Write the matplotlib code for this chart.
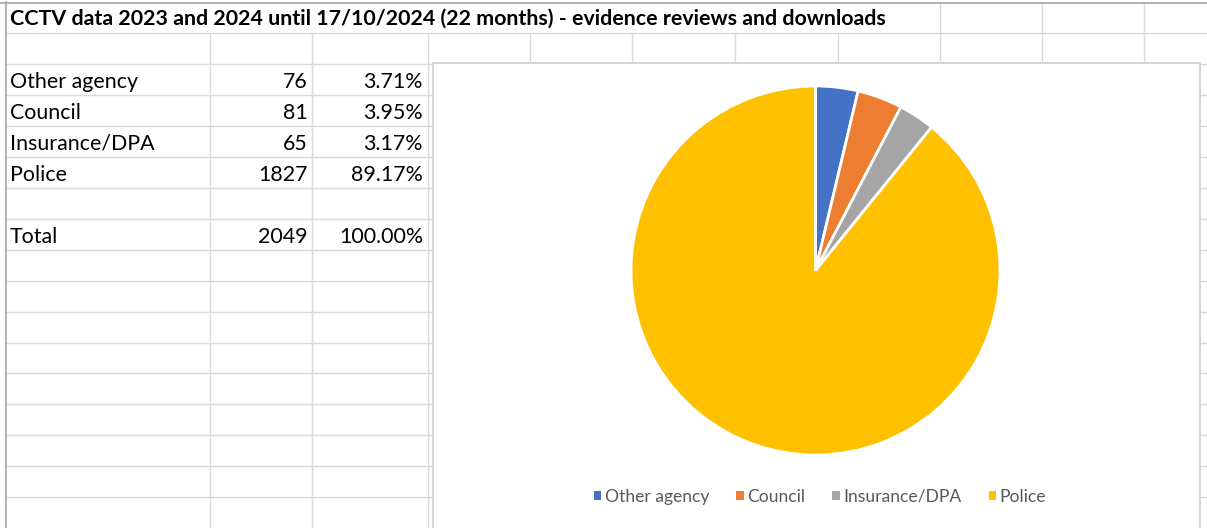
import matplotlib
matplotlib.use('Agg')
import matplotlib.pyplot as plt
from matplotlib.patches import Rectangle

# Sheet contents
title = "CCTV data 2023 and 2024 until 17/10/2024 (22 months) - evidence reviews and downloads"
categories = ["Other agency", "Council", "Insurance/DPA", "Police"]
counts = [76, 81, 65, 1827]
percents = ["3.71%", "3.95%", "3.17%", "89.17%"]
total_label = "Total"
total_count = 2049
total_percent = "100.00%"
colors = ["#4472C4", "#ED7D31", "#A5A5A5", "#FFC000"]

W, H = 1207, 528
fig = plt.figure(figsize=(W / 100, H / 100), dpi=100)
sheet = fig.add_axes([0, 0, 1, 1])
sheet.set_xlim(0, W)
sheet.set_ylim(H, 0)
sheet.axis('off')

grid_c = "#DADADA"
font = ['Lato', 'DejaVu Sans']
fs = 15.4

# Spreadsheet grid
row_top = 33
row_h = 30.95
rows = [row_top + row_h * k for k in range(16)]
left_cols = [210, 312, 428]
right_cols = [530, 632, 735, 838, 940, 1042, 1144]

for y in rows:
    sheet.plot([5, W], [y, y], color=grid_c, lw=1, zorder=1)
for x in left_cols + right_cols:
    sheet.plot([x, x], [row_top, H], color=grid_c, lw=1, zorder=1)
# title row lines only where the title text does not overflow
for x in [940, 1042, 1144]:
    sheet.plot([x, x], [2, row_top], color=grid_c, lw=1, zorder=1)
# sheet outer border
sheet.plot([0, W], [2.5, 2.5], color="#A6A6A6", lw=1.2, zorder=2)
sheet.plot([5.5, 5.5], [2, H], color="#A6A6A6", lw=1.2, zorder=2)

# Title
sheet.text(10, 19, title, fontsize=fs, fontweight='bold', family=font,
           va='center', ha='left', color='black', zorder=3)

# Table
def cell_y(r):
    return row_top + row_h * r + row_h / 2 + 2.5

for i, (cat, n, p) in enumerate(zip(categories, counts, percents)):
    y = cell_y(i + 1)
    sheet.text(10, y, cat, fontsize=fs, family=font, va='center', ha='left')
    sheet.text(308, y, str(n), fontsize=fs, family=font, va='center', ha='right')
    sheet.text(423, y, p, fontsize=fs, family=font, va='center', ha='right')
y = cell_y(6)
sheet.text(10, y, total_label, fontsize=fs, family=font, va='center', ha='left')
sheet.text(308, y, str(total_count), fontsize=fs, family=font, va='center', ha='right')
sheet.text(423, y, total_percent, fontsize=fs, family=font, va='center', ha='right')

# Chart area box
sheet.add_patch(Rectangle((433, 63), 767, 470, facecolor='white',
                          edgecolor='#D6D6D6', lw=1.5, zorder=4))

# Pie
pie_ax = fig.add_axes([631 / W, 1 - 455 / H, 369 / W, 369 / H])
wedges, _ = pie_ax.pie(counts, colors=colors, startangle=90, counterclock=False,
                       radius=1.0, wedgeprops=dict(edgecolor='white', linewidth=2))
pie_ax.set_xlim(-1.0, 1.0)
pie_ax.set_ylim(-1.0, 1.0)
pie_ax.set_aspect('equal')
pie_ax.axis('off')

leg = fig.legend(wedges, categories, loc='center', bbox_to_anchor=(820 / W, 1 - 497 / H),
                 ncol=4, frameon=False, handlelength=0.42, handleheight=0.42,
                 handletextpad=0.2, columnspacing=1.55,
                 prop=dict(family=font, size=12.6))
for t in leg.get_texts():
    t.set_color('#595959')
for h in leg.legend_handles:
    h.set_edgecolor('none')

fig.savefig('out.png', dpi=100)
